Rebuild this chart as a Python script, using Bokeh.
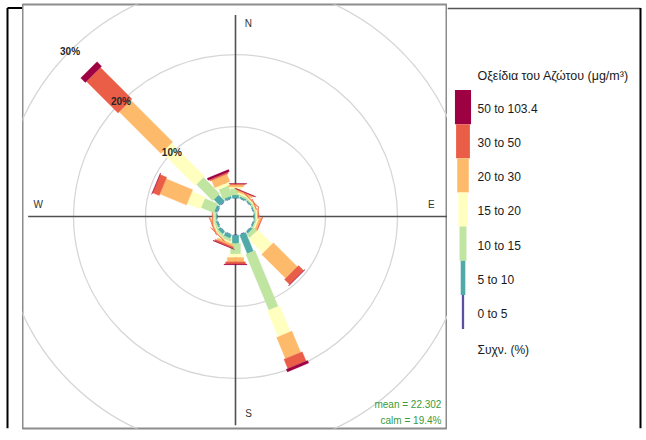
import numpy as np
from bokeh.plotting import figure
from bokeh.layouts import row
from bokeh.models import ColumnDataSource, Range1d
from bokeh.core.properties import value
from bokeh.embed import file_html
from bokeh.resources import INLINE

# ---------------- data ----------------
directions = [0, 22.5, 45, 67.5, 90, 112.5, 135, 157.5,
              180, 202.5, 225, 247.5, 270, 292.5, 315, 337.5]
categories = ["0 to 5", "5 to 10", "10 to 15", "15 to 20",
              "20 to 30", "30 to 50", "50 to 103.4"]
colors = ["#5E4FA2", "#4FAAA8", "#BFE5A0", "#FFFFBF",
          "#FDBA6B", "#EA5D47", "#9E0142"]

# frequency (%) of each concentration interval per direction
f_0_5    = [0.05, 0.05, 0.05, 0.05, 0.05, 0.05, 0.05, 0.10, 0.10, 0.05, 0.05, 0.05, 0.05, 0.05, 0.10, 0.05]
f_5_10   = [0.45, 0.25, 0.20, 0.15, 0.15, 0.20, 0.35, 2.80, 1.15, 0.55, 0.45, 0.25, 0.15, 0.45, 1.20, 0.35]
f_10_15  = [0.90, 0.25, 0.20, 0.15, 0.15, 0.20, 0.60, 8.40, 1.45, 0.40, 0.30, 0.30, 0.25, 1.90, 3.20, 1.45]
f_15_20  = [0.20, 0.20, 0.10, 0.10, 0.15, 0.20, 2.80, 3.90, 0.50, 0.20, 0.10, 0.15, 0.10, 2.00, 6.50, 0.45]
f_20_30  = [0.30, 0.25, 0.10, 0.10, 0.15, 0.30, 4.70, 3.20, 0.60, 0.30, 0.10, 0.15, 0.15, 4.00, 8.20, 1.10]
f_30_50  = [0.15, 0.10, 0.05, 0.05, 0.05, 0.10, 1.00, 1.40, 0.30, 0.25, 0.05, 0.05, 0.05, 1.00, 6.20, 0.20]
f_50_103 = [0.05, 0.02, 0.00, 0.00, 0.00, 0.00, 0.05, 0.40, 0.10, 0.05, 0.00, 0.00, 0.00, 0.05, 0.90, 0.30]

grid_pct = [10, 20, 30]
grid_labels = ["10%", "20%", "30%"]
compass = ["N", "E", "S", "W"]
legend_title = "Οξείδια του Αζώτου (μg/m³)"
freq_label = "Συχν. (%)"
stats_text = ["mean = 22.302", "calm = 19.4%"]

# ---------------- layout constants ----------------
S = 7.2          # px per percent
OFF = 2.5        # calm-circle offset (percent units)
HW = 0.229       # paddle half-width per interval index (percent units)
FONT = "Liberation Sans"
H = 436

freqs = np.array([f_0_5, f_5_10, f_10_15, f_15_20, f_20_30, f_30_50, f_50_103])
cum = np.cumsum(freqs, axis=0)

# ---------------- left frame strip ----------------
l = figure(width=22, height=H, x_range=Range1d(0, 22), y_range=Range1d(H, 0),
           x_axis_location=None, y_axis_location=None, min_border=0,
           output_backend="svg", toolbar_location=None)
l.grid.visible = False
l.outline_line_color = None
l.segment(x0=[7, 7], y0=[3.5, 3.5], x1=[7, 22], y1=[H, 3.5], line_color="black", line_width=2)

# ---------------- polar panel ----------------
p = figure(width=425, height=H,
           x_range=Range1d(-213 / S, 212 / S), y_range=Range1d(-212 / S, 212 / S),
           x_axis_location=None, y_axis_location=None,
           min_border_left=0, min_border_right=0, min_border_top=4, min_border_bottom=H - 428,
           output_backend="svg", toolbar_location=None)
p.grid.visible = False
p.outline_line_color = "#8c8c8c"
p.outline_line_width = 2

# grid circles
p.circle(x=[0] * len(grid_pct), y=[0] * len(grid_pct),
         radius=[OFF + g for g in grid_pct],
         fill_color=None, line_color="#d6d6d6", line_width=1.3)

# axis cross
p.segment(x0=[0, -28.8], y0=[28.0, 0], x1=[0, 29.6], y1=[-29.0, 0],
          line_color="#505050", line_width=1.6)

# paddles
xs, ys, cs = [], [], []
for d, ang in enumerate(directions):
    t = np.radians(ang)
    ux, uy = np.sin(t), np.cos(t)
    vx, vy = np.cos(t), -np.sin(t)
    lo = 0.0
    for i in range(len(categories)):
        hi = cum[i, d]
        if hi - lo > 0:
            r1, r2 = OFF + lo, OFF + hi
            w = HW * (i + 1)
            xs.append([r1 * ux - w * vx, r1 * ux + w * vx, r2 * ux + w * vx, r2 * ux - w * vx])
            ys.append([r1 * uy - w * vy, r1 * uy + w * vy, r2 * uy + w * vy, r2 * uy - w * vy])
            cs.append(colors[i])
        lo = hi
p.patches(xs="xs", ys="ys", fill_color="c", line_color="c", line_width=0.3,
          source=ColumnDataSource(dict(xs=xs, ys=ys, c=cs)))

# percent labels on the NW spoke
t = np.radians(315)
p.text(x=[(OFF + g) * np.sin(t) for g in grid_pct],
       y=[(OFF + g) * np.cos(t) for g in grid_pct],
       text=grid_labels, text_align="center", text_baseline="middle",
       text_font=value(FONT), text_font_size="10px", text_color="#262626",
       text_font_style="bold")

# compass labels
p.text(x=[1.8, 27.2, 1.8, -27.4], y=[26.8, 1.7, -27.4, 1.7], text=compass,
       text_align="center", text_baseline="middle",
       text_font=value(FONT), text_font_size="10px", text_color="#333333")

# stats
p.text(x=[28.6, 28.6], y=[-26.1, -28.3], text=stats_text,
       text_align="right", text_baseline="middle",
       text_font=value(FONT), text_font_size="10px", text_color="#3a9a3a")

# ---------------- legend panel ----------------
LW = 197
q = figure(width=LW, height=H, x_range=Range1d(447, 447 + LW), y_range=Range1d(H, 0),
           x_axis_location=None, y_axis_location=None, min_border=0,
           output_backend="svg", toolbar_location=None)
q.grid.visible = False
q.outline_line_color = None

n = len(categories)
BH = 35.1
TOP = 88
order = list(range(n))[::-1]
yc = [TOP + BH * (k + 0.5) for k in range(n)]
q.rect(x=[462.5] * n, y=yc, width=[2.3 * (i + 1) for i in order], height=[BH] * n,
       fill_color=[colors[i] for i in order], line_color=None)
q.text(x=[477] * n, y=[v + 2 for v in yc], text=[categories[i] for i in order],
       text_baseline="middle", text_font=value(FONT), text_font_size="12px",
       text_color="#1a1a1a")
q.text(x=[477], y=[74], text=[legend_title], text_baseline="middle",
       text_font=value(FONT), text_font_size="12.5px", text_color="#1a1a1a")
q.text(x=[477], y=[355], text=[freq_label], text_baseline="middle",
       text_font=value(FONT), text_font_size="12px", text_color="#1a1a1a")
# outer frame lines
q.segment(x0=[447, 640], y0=[4, 3.5], x1=[640, 640], y1=[4, H],
          line_color=["#555555", "black"], line_width=[1.5, 2])

layout = row(l, p, q)
open("out.html", "w").write(file_html(layout, INLINE))
